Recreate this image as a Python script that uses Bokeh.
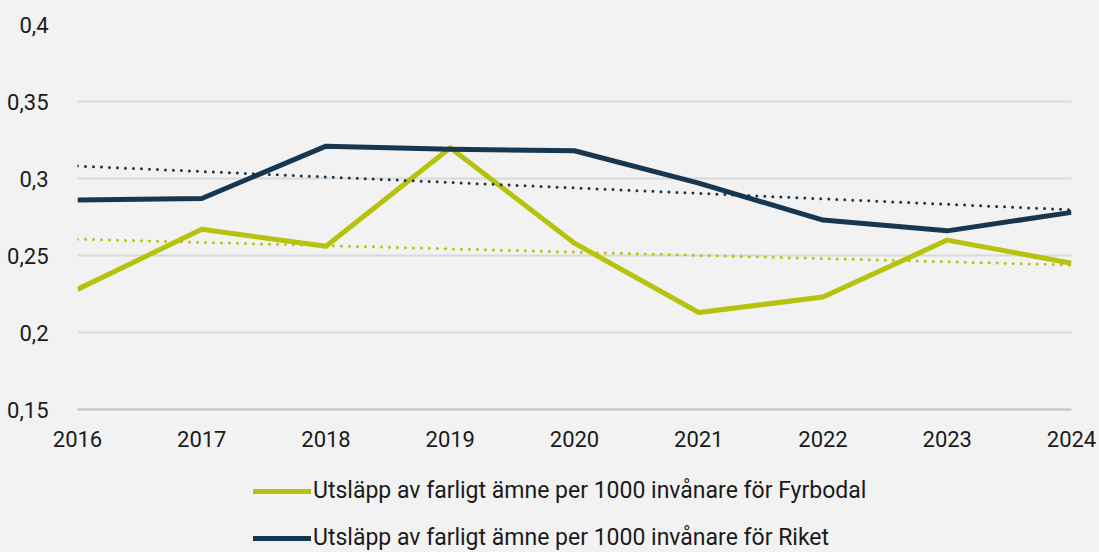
import numpy as np
from bokeh.plotting import figure
from bokeh.layouts import column
from bokeh.models import ColumnDataSource, Legend, LegendItem, CustomJSTickFormatter, FixedTicker, Range1d
from bokeh.embed import file_html
from bokeh.resources import INLINE

years = [2016, 2017, 2018, 2019, 2020, 2021, 2022, 2023, 2024]
fyrbodal = [0.228, 0.267, 0.256, 0.320, 0.258, 0.213, 0.223, 0.260, 0.245]
riket = [0.286, 0.287, 0.321, 0.319, 0.318, 0.297, 0.273, 0.266, 0.278]
y_ticks = [0.15, 0.2, 0.25, 0.3, 0.35, 0.4]
x_ticks = years
label_fyr = "Utsläpp av farligt ämne per 1000 invånare för Fyrbodal"
label_rik = "Utsläpp av farligt ämne per 1000 invånare för Riket"

GREEN = "#b7c20e"
NAVY = "#17364f"
BG = "#f2f2f2"
FONT = "Roboto"

x = np.array(years, dtype=float)
fit_f = np.polyfit(x, fyrbodal, 1)
fit_r = np.polyfit(x, riket, 1)
src = ColumnDataSource(dict(
    x=years, f=fyrbodal, r=riket,
    tf=list(np.polyval(fit_f, x)), tr=list(np.polyval(fit_r, x)),
))

p = figure(width=1099, height=460, output_backend="svg", toolbar_location=None,
           x_range=Range1d(2016, 2024), y_range=Range1d(0.15, 0.4),
           min_border_left=77, min_border_right=28, min_border_top=24, min_border_bottom=51)
p.background_fill_color = BG
p.border_fill_color = BG
p.outline_line_color = None

p.line("x", "f", source=src, line_color=GREEN, line_width=5, line_join="round")
p.line("x", "r", source=src, line_color=NAVY, line_width=5, line_join="round")
p.line("x", "tf", source=src, line_color=GREEN, line_width=3, line_dash="0 8", line_cap="round")
p.line("x", "tr", source=src, line_color=NAVY, line_width=3, line_dash="0 8", line_cap="round")

p.xaxis.ticker = FixedTicker(ticks=x_ticks)
p.yaxis.ticker = FixedTicker(ticks=y_ticks)
p.yaxis.formatter = CustomJSTickFormatter(code="return tick.toFixed(2).replace(/0+$/,'').replace('.',',');")

for ax in (p.xaxis[0], p.yaxis[0]):
    ax.major_tick_line_color = None
    ax.minor_tick_line_color = None
    ax.major_label_text_font = FONT
    ax.major_label_text_font_size = "22px"
    ax.major_label_text_color = "#1a1a1a"
p.yaxis.axis_line_color = None
p.xaxis.axis_line_color = "#bfbfbf"
p.xaxis.axis_line_width = 2
p.yaxis.major_label_standoff = 23
p.xaxis.major_label_standoff = 15

p.xgrid.grid_line_color = None
p.ygrid.grid_line_color = "#d9d9d9"
p.ygrid.grid_line_width = 2

# legend panel below the chart (series drawn off-view, only their legend shows)
q = figure(width=1099, height=92, output_backend="svg", toolbar_location=None,
           x_range=Range1d(0, 1), y_range=Range1d(0, 1),
           min_border_left=77, min_border_right=28, min_border_top=0, min_border_bottom=0,
           x_axis_type=None, y_axis_type=None)
q.background_fill_color = BG
q.border_fill_color = BG
q.outline_line_color = None
q.xgrid.visible = False
q.ygrid.visible = False
k_f = q.line("x", "f", source=src, line_color=GREEN, line_width=5, line_cap="round")
k_r = q.line("x", "r", source=src, line_color=NAVY, line_width=5, line_cap="round")

legend = Legend(items=[LegendItem(label=label_fyr, renderers=[k_f]),
                       LegendItem(label=label_rik, renderers=[k_r])],
                orientation="vertical", location=(176, 1))
legend.background_fill_alpha = 0
legend.border_line_color = None
legend.label_text_font = FONT
legend.label_text_font_size = "23px"
legend.label_text_color = "#1a1a1a"
legend.glyph_width = 58
legend.glyph_height = 24
legend.label_height = 24
legend.label_standoff = 2
legend.spacing = 20
legend.margin = 0
legend.padding = 0
q.add_layout(legend, "center")

layout = column(p, q, spacing=0, styles={"background-color": BG})
open("out.html", "w").write(file_html(layout, INLINE))
